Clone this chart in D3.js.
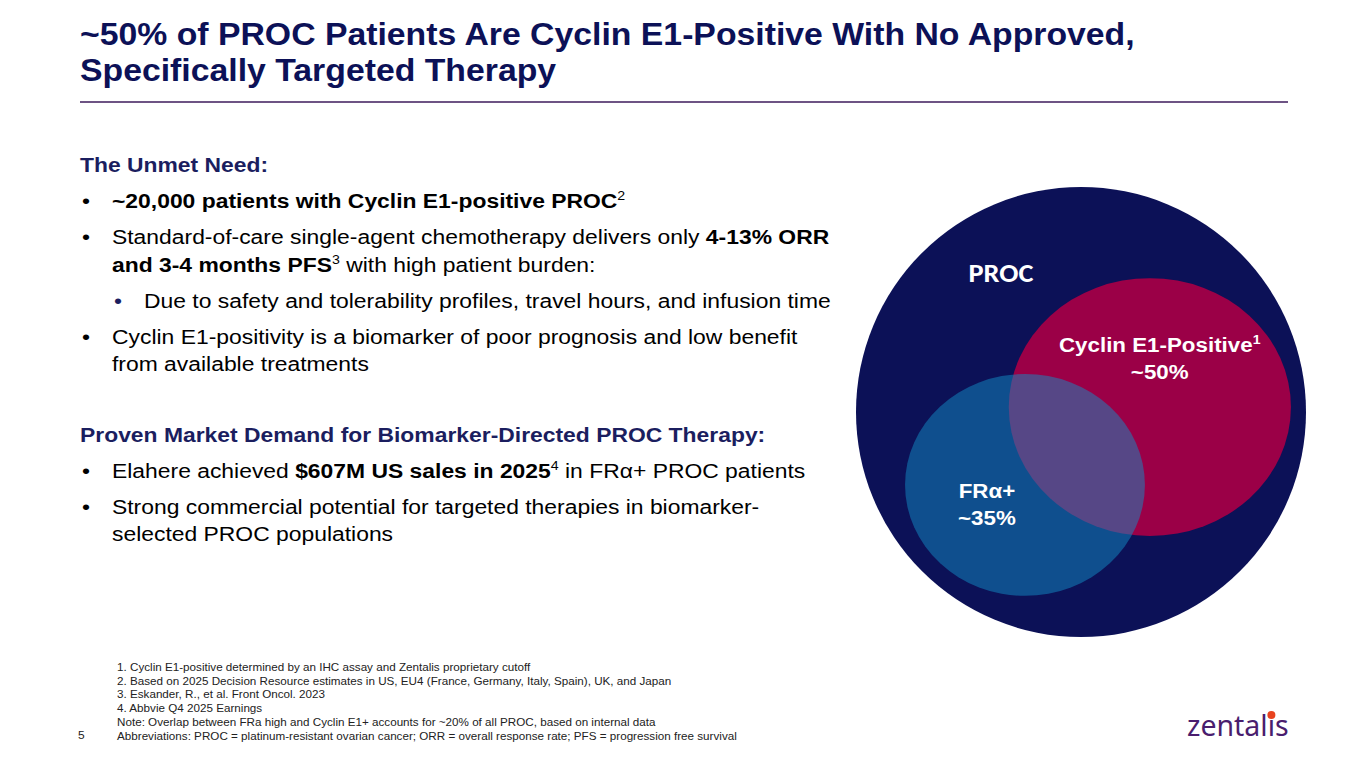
<!DOCTYPE html>
<html>
<head>
<meta charset="utf-8">
<script src="https://cdn.jsdelivr.net/npm/d3@7"></script>
<style>
  body { margin: 0; background: #fff; }
  svg { display: block; font-family: "Liberation Sans", Arial, sans-serif; }
</style>
</head>
<body>
<svg id="slide" width="1365" height="768"></svg>
<script>
// slide text
const titleLines = [
  "~50% of PROC Patients Are Cyclin E1-Positive With No Approved,",
  "Specifically Targeted Therapy"
]

const unmetHeading = "The Unmet Need:"
const unmetBullets = [
  { level: 0, lines: [[{ t: "~20,000 patients with Cyclin E1-positive PROC", b: true }, { t: "2", sup: true }]] },
  { level: 0, lines: [
    [{ t: "Standard-of-care single-agent chemotherapy delivers only " }, { t: "4-13% ORR", b: true }],
    [{ t: "and 3-4 months PFS", b: true }, { t: "3", sup: true }, { t: " with high patient burden:" }]
  ] },
  { level: 1, lines: [[{ t: "Due to safety and tolerability profiles, travel hours, and infusion time" }]] },
  { level: 0, lines: [
    [{ t: "Cyclin E1-positivity is a biomarker of poor prognosis and low benefit" }],
    [{ t: "from available treatments" }]
  ] }
]

const marketHeading = "Proven Market Demand for Biomarker-Directed PROC Therapy:"
const marketBullets = [
  { level: 0, lines: [[{ t: "Elahere achieved " }, { t: "$607M US sales in 2025", b: true }, { t: "4", sup: true }, { t: " in FRα+ PROC patients" }]] },
  { level: 0, lines: [
    [{ t: "Strong commercial potential for targeted therapies in biomarker-" }],
    [{ t: "selected PROC populations" }]
  ] }
]

const footnotes = [
  "1. Cyclin E1-positive determined by an IHC assay and Zentalis proprietary cutoff",
  "2. Based on 2025 Decision Resource estimates in US, EU4 (France, Germany, Italy, Spain), UK, and Japan",
  "3. Eskander, R., et al. Front Oncol. 2023",
  "4. Abbvie Q4 2025 Earnings",
  "Note: Overlap between FRa high and Cyclin E1+ accounts for ~20% of all PROC, based on internal data",
  "Abbreviations: PROC = platinum-resistant ovarian cancer; ORR = overall response rate; PFS = progression free survival"
]

// venn sets
const setNames = ["PROC", "Cyclin E1-Positive", "FRα+"]
const setShares = ["", "~50%", "~35%"]
const setSup = ["", "1", ""]

const navy = "#0c1157"
const headNavy = "#1b1e5f"
const SX = 1.09   // the slide text is a bit wider than Arial

const svg = d3.select("#slide")

function placed(g, x, y) {
  return g.append("text").attr("transform", `translate(${x},${y}) scale(${SX},1)`)
}

// title
titleLines.forEach((line, i) => {
  placed(svg, 80, 45 + i * 35.5)
    .attr("font-size", 31)
    .attr("font-weight", "bold")
    .attr("fill", navy)
    .text(line)
})

svg.append("line")
  .attr("x1", 80).attr("x2", 1288)
  .attr("y1", 102).attr("y2", 102)
  .attr("stroke", "#3c1a5b")
  .attr("stroke-width", 1.4)

// runs of bold / superscript text
function writeRuns(sel, runs, size) {
  let raised = false
  runs.forEach(r => {
    const ts = sel.append("tspan").text(r.t)
    if (r.b) ts.attr("font-weight", "bold")
    if (r.sup) {
      ts.attr("font-size", size * 0.62).attr("dy", -size * 0.36)
      raised = true
    } else if (raised) {
      ts.attr("dy", size * 0.36)
      raised = false
    }
  })
}

function bulletBlock(g, heading, bullets, y0, opts) {
  placed(g, 80, y0)
    .attr("font-size", opts.size)
    .attr("font-weight", "bold")
    .attr("fill", headNavy)
    .text(heading)
  let y = y0
  bullets.forEach(bl => {
    y += opts.gap
    placed(g, bl.level ? 114 : 82, y)
      .attr("font-size", opts.size)
      .attr("fill", bl.level ? headNavy : "#000")
      .text("•")
    bl.lines.forEach((ln, j) => {
      if (j) y += opts.lineH
      const t = placed(g, bl.level ? 144 : 112, y)
        .attr("font-size", opts.size)
        .attr("fill", "#000")
      writeRuns(t, ln, opts.size)
    })
  })
}

bulletBlock(svg.append("g"), unmetHeading, unmetBullets, 172, { size: 21, gap: 36, lineH: 27.5 })
bulletBlock(svg.append("g"), marketHeading, marketBullets, 442, { size: 21, gap: 36, lineH: 27 })

// venn diagram
const vx = d3.scaleLinear().domain([-1, 1]).range([856, 1306])
const vy = d3.scaleLinear().domain([-1, 1]).range([187, 637])
const vr = d3.scaleLinear().domain([0, 2]).range([0, 450])

const shapes = [
  { cx: 0, cy: 0, rx: 1, ry: 1, fill: navy, op: 1 },
  { cx: 0.306, cy: -0.022, rx: 0.627, ry: 0.573, fill: "#9b0047", op: 1 },
  { cx: -0.249, cy: 0.324, rx: 0.533, ry: 0.493, fill: "#128dc5", op: 0.5 }
]

const venn = svg.append("g")
venn.selectAll("ellipse")
  .data(shapes)
  .join("ellipse")
    .attr("cx", d => vx(d.cx))
    .attr("cy", d => vy(d.cy))
    .attr("rx", d => vr(d.rx))
    .attr("ry", d => vr(d.ry))
    .attr("fill", d => d.fill)
    .attr("fill-opacity", d => d.op)

const labelPos = [
  { x: -0.5, y: -0.58, anchor: "start", font: "Carlito, 'Open Sans', sans-serif", size: 26 },
  { x: 0.35, y: -0.267, anchor: "middle", size: 20.5 },
  { x: -0.418, y: 0.38, anchor: "middle", size: 20.5 }
]

setNames.forEach((name, i) => {
  const p = labelPos[i]
  const t = placed(venn, vx(p.x), vy(p.y))
    .attr("text-anchor", p.anchor)
    .attr("font-size", p.size)
    .attr("font-weight", "bold")
    .attr("fill", "#fff")
  if (p.font) t.style("font-family", p.font)
  t.append("tspan").text(name)
  if (setSup[i]) t.append("tspan").attr("font-size", 13).attr("dy", -8).text(setSup[i])
  if (setShares[i]) {
    placed(venn, vx(p.x), vy(p.y) + 27.5)
      .attr("text-anchor", "middle")
      .attr("font-size", p.size)
      .attr("font-weight", "bold")
      .attr("fill", "#fff")
      .text(setShares[i])
  }
})

// footnotes
footnotes.forEach((f, i) => {
  placed(svg, 117, 671 + i * 13.7)
    .attr("font-size", 10.7)
    .attr("fill", "#222")
    .text(f)
})

placed(svg, 78, 739)
  .attr("font-size", 11).attr("fill", "#222")
  .text("5")

// logo
const logo = svg.append("g")
const word = logo.append("text")
  .attr("x", 1187).attr("y", 736)
  .attr("font-size", 28.5)
  .attr("fill", "#4a1d6e")
  .style("font-family", "'Noto Sans', sans-serif")
  .text("zentalıs")
const n = word.node()
const iPos = n.getStartPositionOfChar(6).x + n.getSubStringLength(6, 1) / 2
logo.append("circle")
  .attr("cx", iPos).attr("cy", 715).attr("r", 4)
  .attr("fill", "#e8431f")
</script>
</body>
</html>
